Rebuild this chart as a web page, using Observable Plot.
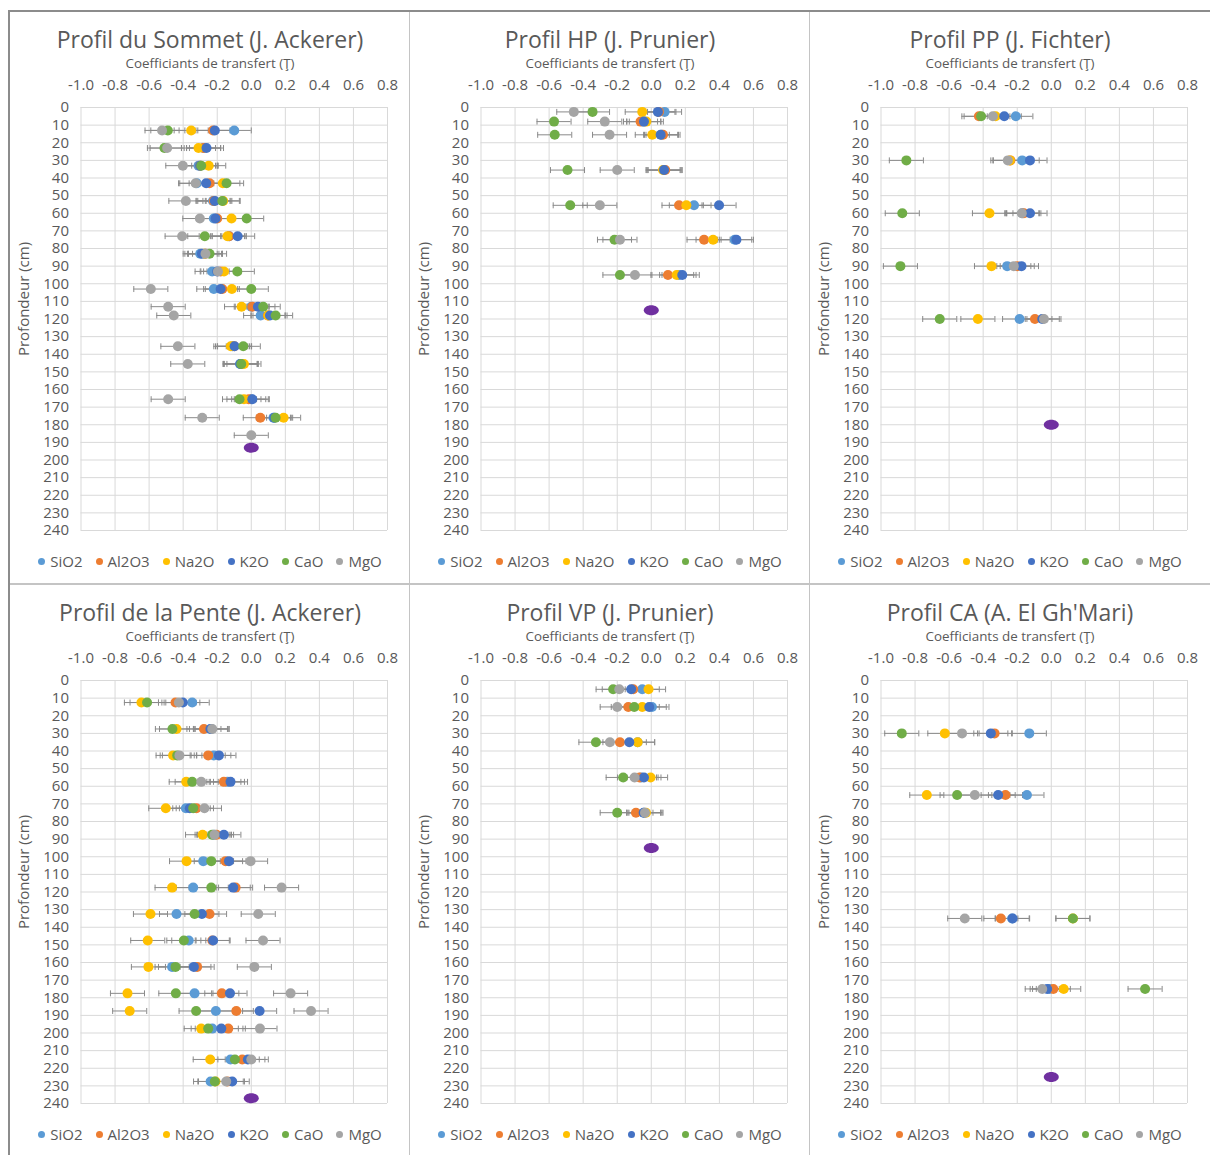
<!DOCTYPE html>
<html><head><meta charset="utf-8">
<script src="https://cdn.jsdelivr.net/npm/d3@7"></script>
<script src="https://cdn.jsdelivr.net/npm/@observablehq/plot@0.6"></script>
<style>
body{margin:0;background:#fff;width:1210px;height:1155px;position:relative;overflow:hidden;font-family:"Open Sans",sans-serif;color:#595959}
.panel{position:absolute;width:400px;height:570px}
.title{position:absolute;left:0;width:400px;top:13px;text-align:center;font-size:23px;line-height:30px;white-space:nowrap}
.sub{position:absolute;left:0;width:400px;top:44px;text-align:center;font-size:13.4px;line-height:16px;white-space:nowrap}
.chart{position:absolute;left:0;top:62px}
.legend{position:absolute;left:0;width:400px;top:539px;display:flex;justify-content:center;gap:13px;font-size:15px;line-height:22px;white-space:nowrap}
.legend .sw{display:inline-block;width:7px;height:7px;border-radius:50%;margin-right:5px;vertical-align:middle;position:relative;top:-1px}
.line{position:absolute}
</style></head><body>
<script>
// ---------- data ----------
const oxides = ["SiO2", "Al2O3", "Na2O", "K2O", "CaO", "MgO"];
const colors = ["#5B9BD5", "#ED7D31", "#FFC000", "#4472C4", "#70AD47", "#A5A5A5"];
const xTicks = [-1.0, -0.8, -0.6, -0.4, -0.2, 0.0, 0.2, 0.4, 0.6, 0.8];
const yTicks = [0, 10, 20, 30, 40, 50, 60, 70, 80, 90, 100, 110, 120, 130, 140, 150, 160, 170, 180, 190, 200, 210, 220, 230, 240];
const errorHalf = 0.1;
const xTitle = "Coefficiants de transfert (Ţ)";
const yTitle = "Profondeur (cm)";

const titles = ["Profil du Sommet (J. Ackerer)", "Profil HP (J. Prunier)", "Profil PP (J. Fichter)",
  "Profil de la Pente (J. Ackerer)", "Profil VP (J. Prunier)", "Profil CA (A. El Gh'Mari)"];
const bedrockDepth = [193, 115, 180, 237, 95, 225];

// Profil du Sommet
const sommetDepth = [13, 23, 33, 43, 53, 63, 73, 83, 93, 103, 113, 118, 135.5, 145.5, 165.5, 176, 186];
const sommetSiO2  = [-0.10, -0.28, -0.31, -0.32, -0.225, -0.22, -0.13, -0.30, -0.23, -0.22, 0.00, 0.055, -0.11, -0.065, 0.00, 0.13, null];
const sommetAl2O3 = [-0.225, -0.28, -0.30, -0.245, -0.22, -0.20, -0.13, -0.27, -0.18, -0.17, 0.006, 0.098, -0.10, -0.06, -0.015, 0.053, null];
const sommetNa2O  = [-0.353, -0.31, -0.25, -0.167, -0.165, -0.116, -0.14, -0.275, -0.16, -0.114, -0.057, 0.10, -0.12, -0.043, -0.043, 0.19, null];
const sommetK2O   = [-0.214, -0.263, -0.30, -0.265, -0.214, -0.21, -0.08, -0.29, -0.20, -0.18, 0.039, 0.11, -0.098, -0.065, 0.006, 0.135, null];
const sommetCaO   = [-0.49, -0.51, -0.294, -0.145, -0.17, -0.027, -0.273, -0.245, -0.082, 0.00, 0.07, 0.143, -0.047, -0.059, -0.069, 0.143, null];
const sommetMgO   = [-0.524, -0.494, -0.402, -0.327, -0.384, -0.302, -0.406, -0.269, -0.196, -0.59, -0.488, -0.455, -0.431, -0.373, -0.488, -0.288, 0.00];

// Profil HP
const hpDepth = [2.5, 8, 15.5, 35.5, 55.5, 75, 95];
const hpSiO2  = [0.078, -0.045, 0.06, 0.075, 0.251, 0.49, 0.163];
const hpAl2O3 = [0.045, -0.063, 0.069, 0.082, 0.163, 0.31, 0.098];
const hpNa2O  = [-0.053, -0.029, 0.006, 0.069, 0.206, 0.363, 0.149];
const hpK2O   = [0.039, -0.043, 0.055, 0.075, 0.398, 0.50, 0.182];
const hpCaO   = [-0.345, -0.571, -0.567, -0.492, -0.476, -0.216, -0.184];
const hpMgO   = [-0.455, -0.273, -0.245, -0.20, -0.302, -0.184, -0.096];

// Profil PP
const ppDepth = [5, 30, 60, 90, 120];
const ppSiO2  = [-0.208, -0.171, -0.17, -0.259, -0.186];
const ppAl2O3 = [-0.425, -0.24, -0.161, -0.20, -0.096];
const ppNa2O  = [-0.327, -0.243, -0.363, -0.351, -0.431];
const ppK2O   = [-0.276, -0.125, -0.125, -0.175, -0.053];
const ppCaO   = [-0.412, -0.851, -0.875, -0.886, -0.655];
const ppMgO   = [-0.343, -0.255, -0.173, -0.22, -0.043];

// Profil de la Pente
const penteDepth = [12.5, 27.5, 42.5, 57.5, 72.5, 87.5, 102.5, 117.5, 132.5, 147.5, 162.5, 177.5, 187.5, 197.5, 215, 227.5];
const penteSiO2  = [-0.347, -0.235, -0.22, -0.14, -0.384, -0.22, -0.282, -0.341, -0.439, -0.367, -0.465, -0.333, -0.208, -0.229, -0.122, -0.239];
const penteAl2O3 = [-0.445, -0.278, -0.253, -0.161, -0.322, -0.204, -0.151, -0.092, -0.245, -0.229, -0.318, -0.173, -0.088, -0.135, -0.053, -0.14];
const penteNa2O  = [-0.645, -0.439, -0.459, -0.382, -0.502, -0.286, -0.38, -0.465, -0.592, -0.608, -0.604, -0.727, -0.714, -0.294, -0.241, -0.21];
const penteK2O   = [-0.402, -0.24, -0.19, -0.122, -0.361, -0.161, -0.131, -0.106, -0.29, -0.224, -0.337, -0.125, 0.049, -0.176, -0.02, -0.112];
const penteCaO   = [-0.612, -0.463, -0.435, -0.347, -0.341, -0.23, -0.235, -0.235, -0.333, -0.396, -0.445, -0.443, -0.324, -0.253, -0.096, -0.214];
const penteMgO   = [-0.425, -0.229, -0.422, -0.294, -0.275, -0.216, -0.004, 0.178, 0.041, 0.069, 0.018, 0.231, 0.351, 0.051, 0.00, -0.147];

// Profil VP
const vpDepth = [5, 15, 35, 55, 75];
const vpSiO2  = [-0.053, 0.004, -0.08, -0.06, -0.043];
const vpAl2O3 = [-0.106, -0.135, -0.184, -0.069, -0.09];
const vpNa2O  = [-0.016, -0.053, -0.08, -0.004, -0.031];
const vpK2O   = [-0.118, -0.012, -0.129, -0.043, -0.045];
const vpCaO   = [-0.224, -0.10, -0.325, -0.165, -0.20];
const vpMgO   = [-0.188, -0.20, -0.243, -0.098, -0.037];

// Profil CA
const caDepth = [30, 65, 135, 175];
const caSiO2  = [-0.129, -0.143, -0.23, -0.01];
const caAl2O3 = [-0.333, -0.269, -0.296, 0.012];
const caNa2O  = [-0.625, -0.731, 0.127, 0.073];
const caK2O   = [-0.355, -0.312, -0.227, -0.024];
const caCaO   = [-0.878, -0.553, 0.127, 0.551];
const caMgO   = [-0.524, -0.449, -0.508, -0.053];

const panels = [
  {depth: sommetDepth, values: [sommetSiO2, sommetAl2O3, sommetNa2O, sommetK2O, sommetCaO, sommetMgO]},
  {depth: hpDepth, values: [hpSiO2, hpAl2O3, hpNa2O, hpK2O, hpCaO, hpMgO]},
  {depth: ppDepth, values: [ppSiO2, ppAl2O3, ppNa2O, ppK2O, ppCaO, ppMgO]},
  {depth: penteDepth, values: [penteSiO2, penteAl2O3, penteNa2O, penteK2O, penteCaO, penteMgO]},
  {depth: vpDepth, values: [vpSiO2, vpAl2O3, vpNa2O, vpK2O, vpCaO, vpMgO]},
  {depth: caDepth, values: [caSiO2, caAl2O3, caNa2O, caK2O, caCaO, caMgO]}
];

// ---------- drawing ----------
const capSymbol = {draw(ctx, size) { const r = Math.sqrt(size / Math.PI); ctx.moveTo(0, -r); ctx.lineTo(0, r); }};
const ellipseSymbol = {draw(ctx, size) {
  const r = Math.sqrt(size / Math.PI), rx = r * 1.5, ry = r, k = 0.5523;
  ctx.moveTo(rx, 0);
  ctx.bezierCurveTo(rx, ry * k, rx * k, ry, 0, ry);
  ctx.bezierCurveTo(-rx * k, ry, -rx, ry * k, -rx, 0);
  ctx.bezierCurveTo(-rx, -ry * k, -rx * k, -ry, 0, -ry);
  ctx.bezierCurveTo(rx * k, -ry, rx, -ry * k, rx, 0);
  ctx.closePath();
}};

function chart(p, bedrock) {
  const rows = [];
  oxides.forEach((ox, k) => p.values[k].forEach((v, i) => { if (v != null) rows.push({ox, depth: p.depth[i], x: v}); }));
  const errColor = "#8a8a8a";
  return Plot.plot({
    width: 400, height: 465,
    marginLeft: 70.5, marginRight: 23, marginTop: 34, marginBottom: 8,
    style: {fontFamily: '"Open Sans", sans-serif', fontSize: "15px", color: "#595959", background: "transparent", overflow: "visible"},
    x: {domain: [-1, 0.8]},
    y: {domain: [0, 240], reverse: true},
    color: {domain: oxides, range: colors},
    marks: [
      Plot.gridX(xTicks, {stroke: "#d9d9d9", strokeOpacity: 1}),
      Plot.gridY(yTicks, {stroke: "#d9d9d9", strokeOpacity: 1}),
      Plot.axisX(xTicks, {anchor: "top", tickSize: 0, tickPadding: 18, tickFormat: d => d.toFixed(1), label: null}),
      Plot.axisY(yTicks, {anchor: "left", tickSize: 0, tickPadding: 12, label: null}),
      Plot.text([yTitle], {frameAnchor: "left", textAnchor: "middle", dx: -56.5, dy: -20, rotate: -90, text: d => d, fill: "#595959", fontSize: 15}),
      Plot.ruleY(rows, {y: "depth", x1: d => d.x - errorHalf, x2: d => d.x + errorHalf, stroke: errColor, strokeWidth: 1}),
      Plot.dot(rows, {x: d => d.x - errorHalf, y: "depth", symbol: capSymbol, r: 3, stroke: errColor, fill: "none", strokeWidth: 1}),
      Plot.dot(rows, {x: d => d.x + errorHalf, y: "depth", symbol: capSymbol, r: 3, stroke: errColor, fill: "none", strokeWidth: 1}),
      Plot.dot(rows, {x: "x", y: "depth", fill: "ox", r: 5}),
      Plot.dot([bedrock], {x: () => 0, y: d => d, symbol: ellipseSymbol, r: 5, fill: "#7030A0"})
    ]
  });
}

function addLine(l, t, w, h, c) {
  const d = document.createElement("div");
  d.className = "line";
  Object.assign(d.style, {left: l + "px", top: t + "px", width: w + "px", height: h + "px", background: c});
  document.body.appendChild(d);
}

panels.forEach((p, i) => {
  const col = i % 3, row = Math.floor(i / 3);
  const div = document.createElement("div");
  div.className = "panel";
  div.style.left = (10 + 400 * col) + "px";
  div.style.top = (11 + 573 * row) + "px";
  const t = document.createElement("div"); t.className = "title"; t.textContent = titles[i]; div.appendChild(t);
  const s = document.createElement("div"); s.className = "sub"; s.textContent = xTitle; div.appendChild(s);
  const c = document.createElement("div"); c.className = "chart"; c.appendChild(chart(p, bedrockDepth[i])); div.appendChild(c);
  const lg = document.createElement("div"); lg.className = "legend";
  oxides.forEach((ox, k) => {
    const it = document.createElement("span");
    const sw = document.createElement("span"); sw.className = "sw"; sw.style.background = colors[k];
    it.appendChild(sw); it.appendChild(document.createTextNode(ox));
    lg.appendChild(it);
  });
  div.appendChild(lg);
  document.body.appendChild(div);
});

// panel frame lines
addLine(8, 10, 1202, 2, "#8c8c8c");
addLine(8, 10, 2, 1145, "#8c8c8c");
addLine(409, 12, 1, 1143, "#c4c4c4");
addLine(809, 12, 1, 1143, "#c4c4c4");
addLine(10, 583, 1200, 1.5, "#c4c4c4");
</script>
</body></html>
